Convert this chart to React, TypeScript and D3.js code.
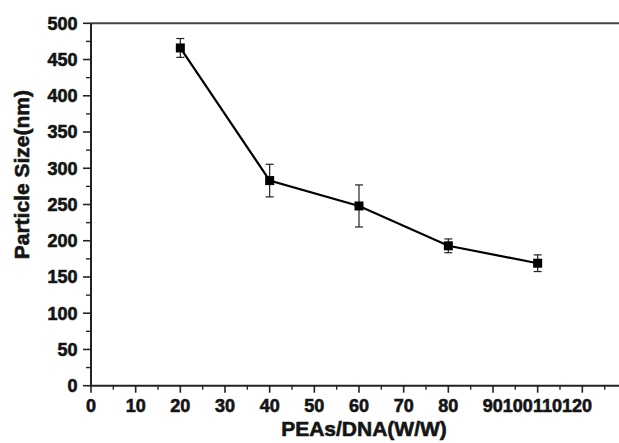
import * as d3 from "d3";
import { useEffect } from "react";

// ratio PEAs/DNA (w/w) and measured particle size
const ratios = [20, 40, 60, 80, 100];
const sizes = [466, 283, 248, 193, 169];
const errors = [13, 22.5, 29, 9.5, 11.5];

const xTicks = [0, 10, 20, 30, 40, 50, 60, 70, 80, 90, 100, 110, 120];
const yTicks = [0, 50, 100, 150, 200, 250, 300, 350, 400, 450, 500];
// labels after 90 are squeezed together in the original figure
const crowdedLabels = ["90", "100", "110", "120"];

const W = 619;
const H = 443;
const FONT = "'Liberation Sans', Arial, Helvetica, sans-serif";
const INK = "#141414";

export default function App() {
  useEffect(() => {
    document.body.style.margin = "0";
  }, []);

  const x = d3.scaleLinear().domain([0, 120]).range([91, 627]);
  const y = d3.scaleLinear().domain([0, 500]).range([385.7, 23.3]);

  const xMinor = d3.range(5, 125, 10);
  const yMinor = d3.range(25, 500, 50);

  const line = d3
    .line<number>()
    .x((d, i) => x(ratios[i]))
    .y((d) => y(d));

  const x0 = x(0);
  const y0 = y(0);
  const cap = 4;
  const half = 4.5;

  // bold text, thickened a little to look like the heavy original lettering
  const txt = {
    fontFamily: FONT,
    fontWeight: "bold" as const,
    fill: INK,
    stroke: INK,
    strokeWidth: 0.6,
  };

  return (
    <svg width={W} height={H} style={{ display: "block", background: "#fff" }}>
      {/* top frame line */}
      <line x1={x0} x2={W} y1={y(500)} y2={y(500)} stroke="#444" strokeWidth={2} />

      {/* y axis */}
      <line x1={x0} x2={x0} y1={y(500)} y2={y0 + 1} stroke="#222" strokeWidth={2} />
      {yTicks.map((v) => (
        <g key={"y" + v}>
          <line x1={x0 - 8} x2={x0} y1={y(v)} y2={y(v)} stroke="#222" strokeWidth={1.6} />
          <text x={77.5} y={y(v) + 6.3} textAnchor="end" fontSize={18} {...txt}>
            {v}
          </text>
        </g>
      ))}
      {yMinor.map((v) => (
        <line key={"ym" + v} x1={x0 - 5} x2={x0} y1={y(v)} y2={y(v)} stroke="#222" strokeWidth={1.4} />
      ))}

      {/* x axis */}
      <line x1={x0 - 1} x2={W} y1={y0} y2={y0} stroke="#222" strokeWidth={2} />
      {xTicks.map((v) => (
        <line key={"x" + v} x1={x(v)} x2={x(v)} y1={y0} y2={y0 + 7} stroke="#222" strokeWidth={1.6} />
      ))}
      {xMinor.map((v) => (
        <line key={"xm" + v} x1={x(v)} x2={x(v)} y1={y0} y2={y0 + 4} stroke="#222" strokeWidth={1.4} />
      ))}
      {xTicks
        .filter((v) => v < 90)
        .map((v) => (
          <text key={"xl" + v} x={x(v)} y={411.5} textAnchor="middle" fontSize={18} {...txt}>
            {v}
          </text>
        ))}
      <text x={x(90) - 10.2} y={411.5} textAnchor="start" fontSize={18} {...txt}>
        {crowdedLabels.map((l) => (
          <tspan key={l}>{l}</tspan>
        ))}
      </text>

      {/* axis titles */}
      <text x={364} y={435.5} textAnchor="middle" fontSize={21} {...txt}>
        PEAs/DNA(W/W)
      </text>
      <text transform={`translate(29,174.7) rotate(-90)`} textAnchor="middle" fontSize={21} {...txt}>
        Particle Size(nm)
      </text>

      {/* error bars */}
      {ratios.map((r, i) => (
        <g key={"e" + r} stroke="#222" strokeWidth={1.2}>
          <line x1={x(r)} x2={x(r)} y1={y(sizes[i] + errors[i])} y2={y(sizes[i] - errors[i])} />
          <line x1={x(r) - cap} x2={x(r) + cap} y1={y(sizes[i] + errors[i])} y2={y(sizes[i] + errors[i])} />
          <line x1={x(r) - cap} x2={x(r) + cap} y1={y(sizes[i] - errors[i])} y2={y(sizes[i] - errors[i])} />
        </g>
      ))}

      {/* data line */}
      <path d={line(sizes) ?? ""} fill="none" stroke="#000" strokeWidth={2.2} />

      {/* markers */}
      {ratios.map((r, i) => (
        <rect key={"m" + r} x={x(r) - half} y={y(sizes[i]) - half} width={half * 2} height={half * 2} fill="#000" />
      ))}
    </svg>
  );
}
